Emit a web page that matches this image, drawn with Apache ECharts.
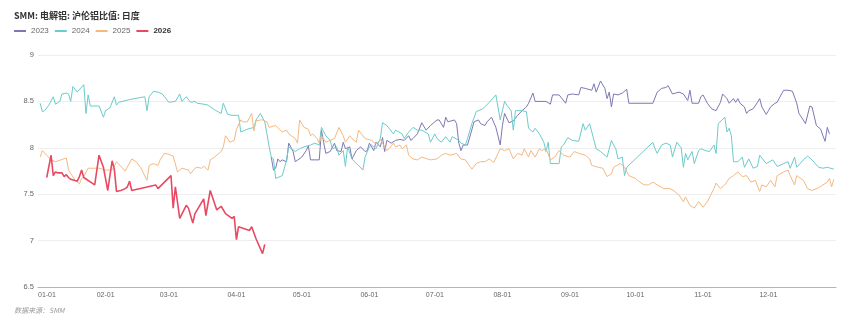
<!DOCTYPE html>
<html>
<head>
<meta charset="utf-8">
<title>SMM 电解铝 沪伦铝比值</title>
<script src="https://cdn.jsdelivr.net/npm/echarts@6/dist/echarts.min.js"></script>
<style>
  html, body { margin: 0; padding: 0; background: #fff; }
  #chart { width: 865px; height: 325px; }
</style>
</head>
<body>
<div id="chart"></div>
<script>
// Month-start tick labels (MM-DD)
const monthTicks = ['01-01','02-01','03-01','04-01','05-01','06-01','07-01','08-01','09-01','10-01','11-01','12-01'];

// Daily SHFE/LME aluminium price ratio, one [MM-DD, ratio] pair per trading day
const ratio2023 = [
['04-17',7.90],['04-18',7.76],['04-19',7.78],['04-20',7.88],['04-21',7.85],['04-22',7.87],['04-24',7.85],['04-25',8.05],['04-27',7.96],['04-28',7.85],
['05-01',7.90],['05-03',7.97],['05-04',8.02],['05-05',7.87],['05-09',7.87],['05-10',8.19],['05-11',8.06],['05-12',7.94],['05-14',7.96],['05-16',8.05],
['05-17',7.97],['05-19',7.96],['05-20',8.06],['05-21',7.99],['05-23',8.01],['05-24',7.88],['05-26',7.97],['05-28',8.01],['05-30',7.96],['05-31',7.97],
['06-01',8.05],['06-03',7.97],['06-04',8.06],['06-06',8.01],['06-07',8.11],['06-08',7.96],['06-09',8.08],['06-11',8.05],['06-13',8.08],['06-15',8.09],
['06-17',8.08],['06-19',8.13],['06-20',8.08],['06-21',8.10],['06-23',8.15],['06-25',8.27],['06-27',8.19],['06-29',8.24],['07-02',8.30],['07-03',8.30],
['07-05',8.22],['07-06',8.33],['07-07',8.28],['07-10',8.30],['07-11',8.26],['07-12',8.05],['07-13',7.97],['07-14',8.03],['07-16',8.03],['07-19',8.28],
['07-21',8.30],['07-22',8.26],['07-24',8.24],['07-25',8.28],['07-27',8.33],['07-29',8.22],['07-31',8.03],['08-01',8.24],['08-02',8.37],['08-04',8.27],
['08-06',8.29],['08-08',8.35],['08-10',8.40],['08-12',8.44],['08-13',8.48],['08-15',8.59],['08-16',8.50],['08-21',8.50],['08-23',8.47],['08-24',8.57],
['08-27',8.57],['08-30',8.48],['08-31',8.57],['09-02',8.58],['09-05',8.57],['09-06',8.65],['09-08',8.64],['09-11',8.62],['09-12',8.69],['09-13',8.60],
['09-15',8.72],['09-17',8.64],['09-18',8.53],['09-19',8.60],['09-20',8.44],['09-21',8.58],['09-23',8.57],['09-25',8.59],['09-27',8.63],['09-28',8.48],
['10-09',8.48],['10-11',8.60],['10-13',8.64],['10-15',8.65],['10-16',8.67],['10-18',8.58],['10-21',8.60],['10-23',8.58],['10-25',8.51],['10-26',8.62],
['10-27',8.48],['10-30',8.48],['10-31',8.55],['11-01',8.57],['11-03',8.48],['11-05',8.42],['11-07',8.40],['11-09',8.49],['11-10',8.58],['11-12',8.53],
['11-13',8.48],['11-15',8.53],['11-16',8.49],['11-17',8.53],['11-18',8.48],['11-20',8.44],['11-21',8.37],['11-22',8.40],['11-24',8.42],['11-26',8.49],
['11-27',8.53],['11-28',8.44],['11-30',8.36],['12-01',8.40],['12-02',8.44],['12-04',8.48],['12-05',8.49],['12-07',8.58],['12-08',8.62],['12-10',8.62],
['12-12',8.61],['12-14',8.48],['12-15',8.37],['12-17',8.30],['12-18',8.26],['12-20',8.45],['12-21',8.44],['12-23',8.24],['12-25',8.20],['12-26',8.13],
['12-27',8.07],['12-28',8.22],['12-29',8.15]
];

const ratio2024 = [
['01-02',8.48],['01-03',8.39],['01-04',8.40],['01-06',8.46],['01-08',8.55],['01-09',8.47],['01-11',8.50],['01-12',8.58],['01-14',8.59],['01-15',8.58],
['01-16',8.50],['01-17',8.66],['01-19',8.60],['01-22',8.68],['01-23',8.37],['01-24',8.57],['01-25',8.45],['01-29',8.45],['01-31',8.33],['02-01',8.40],
['02-03',8.43],['02-05',8.55],['02-06',8.46],['02-07',8.49],['02-12',8.52],['02-19',8.55],['02-20',8.40],['02-21',8.55],['02-23',8.61],['02-25',8.60],
['02-27',8.58],['02-28',8.55],['03-01',8.49],['03-04',8.50],['03-06',8.58],['03-07',8.50],['03-09',8.55],['03-11',8.49],['03-13',8.50],['03-14',8.48],
['03-17',8.47],['03-19',8.46],['03-22',8.41],['03-25',8.37],['03-26',8.48],['03-28',8.36],['03-30',8.35],['04-02',8.35],['04-03',8.17],['04-06',8.20],
['04-09',8.22],['04-10',8.30],['04-12',8.37],['04-14',8.28],['04-15',8.15],['04-16',8.01],['04-17',7.90],['04-18',7.88],['04-19',7.67],['04-22',7.70],
['04-23',7.78],['04-24',7.87],['04-25',8.01],['04-28',7.96],['04-30',7.99],['05-02',8.01],['05-05',8.03],['05-07',8.05],['05-09',8.03],['05-10',8.22],
['05-12',8.13],['05-14',8.08],['05-15',7.99],['05-17',8.01],['05-18',7.92],['05-20',7.97],['05-21',7.80],['05-22',8.01],['05-24',7.88],['05-26',7.83],
['05-27',7.81],['05-29',7.76],['05-30',7.90],['06-01',8.01],['06-02',8.03],['06-04',7.99],['06-06',8.10],['06-07',8.27],['06-09',8.24],['06-12',8.15],
['06-13',8.19],['06-16',8.15],['06-17',8.10],['06-19',8.17],['06-21',8.22],['06-23',8.19],['06-25',8.19],['06-28',8.15],['06-29',8.06],['07-01',8.15],
['07-02',8.10],['07-04',8.06],['07-06',8.12],['07-08',8.06],['07-09',8.12],['07-12',8.08],['07-13',8.05],['07-15',8.03],['07-16',8.10],['07-18',8.26],
['07-20',8.39],['07-23',8.42],['07-26',8.49],['07-29',8.57],['07-31',8.30],['08-02',8.50],['08-03',8.46],['08-05',8.40],['08-06',8.19],['08-07',8.40],
['08-10',8.40],['08-12',8.39],['08-13',8.21],['08-15',8.17],['08-16',8.21],['08-18',8.15],['08-20',8.06],['08-21',7.96],['08-22',8.06],['08-23',7.83],
['08-27',7.83],['08-28',8.01],['08-29',8.03],['08-31',8.11],['09-02',8.08],['09-05',8.07],['09-07',8.26],['09-08',8.19],['09-10',8.26],['09-11',8.17],
['09-13',7.99],['09-15',7.96],['09-18',7.90],['09-20',8.08],['09-21',8.03],['09-22',7.99],['09-23',7.88],['09-25',7.90],['09-26',7.70],['09-27',7.79],
['10-09',8.06],['10-10',7.99],['10-11',7.94],['10-13',8.03],['10-15',8.05],['10-17',8.03],['10-18',7.90],['10-20',8.06],['10-22',8.00],['10-23',7.79],
['10-24',7.94],['10-25',7.87],['10-27',7.96],['10-28',7.83],['10-30',7.97],['10-31',7.99],['11-02',7.97],['11-04',7.96],['11-06',8.03],['11-07',7.94],
['11-08',8.26],['11-11',8.33],['11-12',8.17],['11-13',8.21],['11-14',8.13],['11-15',7.85],['11-17',7.85],['11-19',7.90],['11-20',7.79],['11-22',7.88],
['11-24',7.78],['11-26',7.80],['11-27',7.92],['11-30',7.83],['12-03',7.87],['12-05',7.80],['12-08',7.83],['12-10',7.85],['12-11',7.78],['12-13',7.90],
['12-14',7.79],['12-17',7.87],['12-19',7.91],['12-21',7.87],['12-24',7.79],['12-26',7.78],['12-28',7.79],['12-31',7.77]
];

const ratio2025 = [
['01-02',7.90],['01-03',7.97],['01-05',7.92],['01-07',7.87],['01-09',7.85],['01-14',7.89],['01-15',7.76],['01-18',7.65],['01-20',7.61],['01-21',7.67],
['01-22',7.69],['01-24',7.78],['01-29',7.78],['02-01',7.76],['02-04',7.76],['02-06',7.85],['02-10',7.75],['02-13',7.88],['02-15',7.85],['02-17',7.79],
['02-20',7.65],['02-21',7.81],['02-23',7.83],['02-25',7.81],['02-26',7.87],['02-28',7.94],['03-01',7.93],['03-03',7.91],['03-05',7.74],['03-07',7.78],
['03-10',7.76],['03-11',7.72],['03-13',7.78],['03-14',7.79],['03-16',7.78],['03-17',7.80],['03-19',7.76],['03-20',7.87],['03-22',7.90],['03-25',7.96],
['03-26',8.01],['03-27',8.13],['03-29',8.06],['03-31',8.08],['04-01',8.20],['04-03',8.30],['04-04',8.28],['04-06',8.28],['04-08',8.37],['04-09',8.18],
['04-10',8.29],['04-12',8.30],['04-13',8.30],['04-15',8.28],['04-16',8.22],['04-19',8.24],['04-22',8.17],['04-24',8.19],['04-25',8.15],['04-28',8.10],
['04-29',8.05],['04-30',8.30],['05-02',8.22],['05-04',8.20],['05-05',8.13],['05-06',8.15],['05-08',8.10],['05-09',8.05],['05-10',8.13],['05-12',8.06],
['05-16',8.10],['05-18',8.22],['05-20',8.13],['05-21',8.06],['05-23',8.13],['05-24',8.10],['05-26',8.06],['05-27',8.19],['05-29',8.13],['05-30',8.10],
['06-02',8.08],['06-04',8.04],['06-06',8.09],['06-09',7.97],['06-10',7.99],['06-12',8.05],['06-13',8.01],['06-15',8.03],['06-16',7.99],['06-18',8.03],
['06-19',7.92],['06-21',7.88],['06-23',7.87],['06-25',7.90],['06-29',7.87],['07-02',7.88],['07-04',7.92],['07-06',7.94],['07-08',7.92],['07-11',7.94],
['07-13',7.88],['07-15',7.87],['07-18',7.77],['07-20',7.83],['07-22',7.85],['07-24',7.85],['07-26',7.88],['07-28',7.84],['07-31',7.99],['08-02',7.97],
['08-04',7.99],['08-06',7.88],['08-08',7.94],['08-10',7.92],['08-11',7.99],['08-13',7.90],['08-14',7.97],['08-16',7.90],['08-18',7.99],['08-19',7.97],
['08-21',7.99],['08-23',7.87],['08-25',7.90],['08-27',7.97],['08-29',7.92],['09-01',7.90],['09-03',7.96],['09-05',7.94],['09-08',7.92],['09-10',7.88],
['09-11',7.81],['09-14',7.79],['09-16',7.78],['09-18',7.69],['09-20',7.72],['09-21',7.79],['09-24',7.83],['09-26',7.79],['09-28',7.70],['10-01',7.67],
['10-03',7.63],['10-05',7.60],['10-07',7.60],['10-09',7.63],['10-11',7.60],['10-14',7.56],['10-17',7.56],['10-19',7.53],['10-21',7.49],['10-23',7.42],
['10-24',7.47],['10-26',7.38],['10-28',7.35],['10-30',7.42],['11-01',7.36],['11-03',7.42],['11-06',7.56],['11-07',7.62],['11-09',7.56],['11-11',7.60],
['11-13',7.67],['11-15',7.70],['11-17',7.74],['11-19',7.69],['11-21',7.70],['11-23',7.63],['11-25',7.65],['11-27',7.53],['11-28',7.60],['11-30',7.58],
['12-02',7.65],['12-04',7.58],['12-05',7.70],['12-08',7.74],['12-10',7.76],['12-11',7.70],['12-13',7.60],['12-14',7.70],['12-17',7.65],['12-19',7.56],
['12-21',7.54],['12-24',7.57],['12-26',7.60],['12-28',7.63],['12-29',7.67],['12-30',7.58],['12-31',7.66]
];

const ratio2026 = [
['01-05',7.68],['01-07',7.92],['01-08',7.70],['01-09',7.74],['01-10',7.73],['01-12',7.73],['01-13',7.69],['01-14',7.71],['01-15',7.68],['01-16',7.66],
['01-19',7.64],['01-20',7.69],['01-21',7.76],['01-22',7.68],['01-27',7.60],['01-29',7.92],['01-31',7.79],['02-02',7.54],['02-04',7.86],['02-05',7.77],
['02-06',7.53],['02-08',7.54],['02-10',7.56],['02-11',7.58],['02-12',7.64],['02-13',7.54],['02-24',7.60],['02-25',7.56],['03-02',7.70],['03-03',7.35],
['03-04',7.58],['03-06',7.24],['03-09',7.38],['03-10',7.35],['03-12',7.19],['03-13',7.29],['03-17',7.45],['03-18',7.27],['03-20',7.54],['03-23',7.33],
['03-25',7.37],['03-27',7.29],['03-30',7.24],['03-31',7.26],['04-01',7.01],['04-02',7.15],['04-07',7.11],['04-08',7.15],['04-10',7.02],['04-13',6.86],
['04-14',6.96]
];

const seriesNames = ['2023', '2024', '2025', '2026'];
const seriesColors = ['#7c79b2', '#6ccbcc', '#f4b982', '#e84a63'];
const seriesData = [ratio2023, ratio2024, ratio2025, ratio2026];

// All years share one leap-year calendar so every MM-DD has a slot on the axis
const BASE_YEAR = 2024;
const DAY_MS = 86400000;
const yearStart = Date.UTC(BASE_YEAR, 0, 1);
// Day offset from 1 January of the shared calendar
const toDay = md => {
  const [m, d] = md.split('-').map(Number);
  return (Date.UTC(BASE_YEAR, m - 1, d) - yearStart) / DAY_MS;
};
const dayToLabel = day => {
  const dt = new Date(yearStart + day * DAY_MS);
  const mm = String(dt.getUTCMonth() + 1).padStart(2, '0');
  const dd = String(dt.getUTCDate()).padStart(2, '0');
  return mm + '-' + dd;
};
const daysInYear = (Date.UTC(BASE_YEAR + 1, 0, 1) - yearStart) / DAY_MS;

const FONT = '"Liberation Sans", "Noto Sans CJK SC", sans-serif';

const chart = echarts.init(document.getElementById('chart'), null, { renderer: 'canvas' });

chart.setOption({
  animation: false,
  backgroundColor: '#fff',
  title: {
    text: 'SMM: 电解铝: 沪伦铝比值: 日度',
    left: 14,
    top: 11,
    padding: 0,
    textStyle: { fontSize: 9, fontWeight: 'bold', color: '#333', fontFamily: '"Noto Sans CJK SC", sans-serif' }
  },
  legend: {
    left: 14,
    top: 27,
    padding: 0,
    icon: 'rect',
    itemWidth: 12,
    itemHeight: 2,
    itemGap: 6,
    textStyle: { fontSize: 8, color: '#666', fontFamily: FONT },
    data: seriesNames.map(n => n === '2026'
      ? { name: n, textStyle: { fontWeight: 'bold', color: '#333' } }
      : { name: n })
  },
  grid: { left: 38, right: 29, top: 55, bottom: 38, containLabel: false },
  xAxis: {
    type: 'value',
    min: 0,
    max: daysInYear,
    axisLine: { show: true, onZero: false, lineStyle: { color: '#b5b5b5', width: 1 } },
    axisTick: { show: false },
    splitLine: { show: false },
    axisLabel: {
      customValues: monthTicks.map(toDay),
      formatter: v => dayToLabel(v),
      alignMinLabel: 'left',
      margin: 5,
      fontSize: 7,
      color: '#666',
      fontFamily: FONT
    }
  },
  yAxis: {
    type: 'value',
    min: 6.5,
    max: 9,
    interval: 0.5,
    axisLine: { show: false },
    axisTick: { show: false },
    splitLine: { lineStyle: { color: '#eeeeee', width: 1 } },
    axisLabel: { margin: 4, fontSize: 7.5, color: '#666', fontFamily: FONT }
  },
  series: seriesNames.map((name, i) => ({
    name,
    type: 'line',
    showSymbol: false,
    symbol: 'none',
    z: i + 2,
    color: seriesColors[i],
    lineStyle: { width: name === '2026' ? 1.6 : 1, color: seriesColors[i] },
    data: seriesData[i].map(([md, v]) => [toDay(md), v])
  })),
  graphic: [{
    type: 'text',
    left: 14,
    top: 307,
    style: {
      text: '数据来源：SMM',
      fontSize: 7,
      fontStyle: 'italic',
      fill: '#999',
      fontFamily: '"Noto Sans CJK SC", sans-serif'
    }
  }]
});
</script>
</body>
</html>
